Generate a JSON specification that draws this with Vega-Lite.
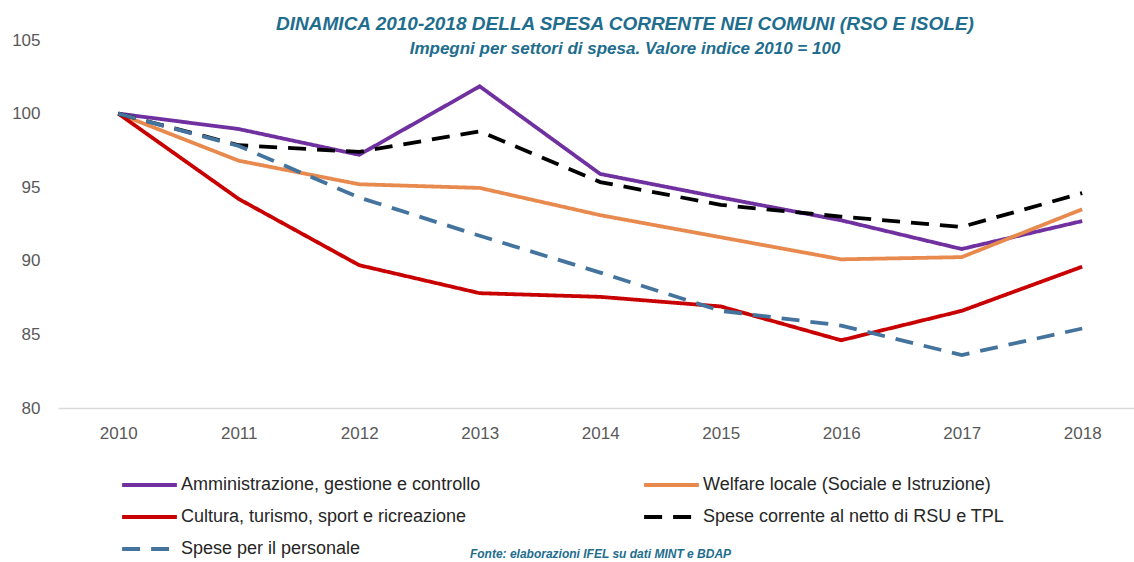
{
  "$schema": "https://vega.github.io/schema/vega-lite/v6.json",
  "width": 1076,
  "height": 368,
  "autosize": {"type": "none"},
  "padding": {"left": 58, "top": 40, "right": 0, "bottom": 154},
  "background": "white",
  "view": {"stroke": null},
  "title": {
    "text": "DINAMICA 2010-2018 DELLA SPESA CORRENTE NEI COMUNI (RSO E ISOLE)",
    "subtitle": "Impegni per settori di spesa. Valore indice 2010  = 100",
    "anchor": "middle",
    "dx": 29,
    "offset": -26,
    "font": "Liberation Sans",
    "fontSize": 19,
    "fontStyle": "italic",
    "fontWeight": "bold",
    "color": "#216D8E",
    "subtitleFont": "Liberation Sans",
    "subtitleFontSize": 17,
    "subtitleFontStyle": "italic",
    "subtitleFontWeight": "bold",
    "subtitleColor": "#216D8E",
    "subtitlePadding": 7
  },
  "data": {
    "values": [
      {"year": 2010, "serie": "Amministrazione, gestione e controllo", "value": 100},
      {"year": 2011, "serie": "Amministrazione, gestione e controllo", "value": 98.95},
      {"year": 2012, "serie": "Amministrazione, gestione e controllo", "value": 97.2},
      {"year": 2013, "serie": "Amministrazione, gestione e controllo", "value": 101.85},
      {"year": 2014, "serie": "Amministrazione, gestione e controllo", "value": 95.9},
      {"year": 2015, "serie": "Amministrazione, gestione e controllo", "value": 94.3},
      {"year": 2016, "serie": "Amministrazione, gestione e controllo", "value": 92.75},
      {"year": 2017, "serie": "Amministrazione, gestione e controllo", "value": 90.8},
      {"year": 2018, "serie": "Amministrazione, gestione e controllo", "value": 92.7},
      {"year": 2010, "serie": "Welfare locale (Sociale e Istruzione)", "value": 100},
      {"year": 2011, "serie": "Welfare locale (Sociale e Istruzione)", "value": 96.8},
      {"year": 2012, "serie": "Welfare locale (Sociale e Istruzione)", "value": 95.2},
      {"year": 2013, "serie": "Welfare locale (Sociale e Istruzione)", "value": 94.95},
      {"year": 2014, "serie": "Welfare locale (Sociale e Istruzione)", "value": 93.1},
      {"year": 2015, "serie": "Welfare locale (Sociale e Istruzione)", "value": 91.6},
      {"year": 2016, "serie": "Welfare locale (Sociale e Istruzione)", "value": 90.1},
      {"year": 2017, "serie": "Welfare locale (Sociale e Istruzione)", "value": 90.25},
      {"year": 2018, "serie": "Welfare locale (Sociale e Istruzione)", "value": 93.5},
      {"year": 2010, "serie": "Cultura, turismo, sport e ricreazione", "value": 100},
      {"year": 2011, "serie": "Cultura, turismo, sport e ricreazione", "value": 94.2},
      {"year": 2012, "serie": "Cultura, turismo, sport e ricreazione", "value": 89.7},
      {"year": 2013, "serie": "Cultura, turismo, sport e ricreazione", "value": 87.8},
      {"year": 2014, "serie": "Cultura, turismo, sport e ricreazione", "value": 87.55},
      {"year": 2015, "serie": "Cultura, turismo, sport e ricreazione", "value": 86.9},
      {"year": 2016, "serie": "Cultura, turismo, sport e ricreazione", "value": 84.6},
      {"year": 2017, "serie": "Cultura, turismo, sport e ricreazione", "value": 86.6},
      {"year": 2018, "serie": "Cultura, turismo, sport e ricreazione", "value": 89.6},
      {"year": 2010, "serie": "Spese corrente al netto di RSU e TPL", "value": 100},
      {"year": 2011, "serie": "Spese corrente al netto di RSU e TPL", "value": 97.85},
      {"year": 2012, "serie": "Spese corrente al netto di RSU e TPL", "value": 97.4},
      {"year": 2013, "serie": "Spese corrente al netto di RSU e TPL", "value": 98.8},
      {"year": 2014, "serie": "Spese corrente al netto di RSU e TPL", "value": 95.35},
      {"year": 2015, "serie": "Spese corrente al netto di RSU e TPL", "value": 93.8},
      {"year": 2016, "serie": "Spese corrente al netto di RSU e TPL", "value": 93.0},
      {"year": 2017, "serie": "Spese corrente al netto di RSU e TPL", "value": 92.3},
      {"year": 2018, "serie": "Spese corrente al netto di RSU e TPL", "value": 94.6},
      {"year": 2010, "serie": "Spese per il personale", "value": 100},
      {"year": 2011, "serie": "Spese per il personale", "value": 97.8},
      {"year": 2012, "serie": "Spese per il personale", "value": 94.3},
      {"year": 2013, "serie": "Spese per il personale", "value": 91.7},
      {"year": 2014, "serie": "Spese per il personale", "value": 89.2},
      {"year": 2015, "serie": "Spese per il personale", "value": 86.6},
      {"year": 2016, "serie": "Spese per il personale", "value": 85.6},
      {"year": 2017, "serie": "Spese per il personale", "value": 83.6},
      {"year": 2018, "serie": "Spese per il personale", "value": 85.4}
    ]
  },
  "mark": {"type": "line", "strokeWidth": 3.8, "strokeCap": "butt"},
  "encoding": {
    "x": {
      "field": "year",
      "type": "quantitative",
      "scale": {"domain": [2009.5, 2018.43], "nice": false, "zero": false},
      "axis": {
        "values": [2010, 2011, 2012, 2013, 2014, 2015, 2016, 2017, 2018],
        "format": "d",
        "grid": false,
        "ticks": false,
        "domainColor": "#D9D9D9",
        "domainWidth": 1.5,
        "labelPadding": 17,
        "labelFontSize": 17,
        "labelFont": "Liberation Sans",
        "labelColor": "#595959",
        "title": "Fonte: elaborazioni IFEL su dati MINT e BDAP",
        "titleFont": "Liberation Sans",
        "titleFontSize": 12,
        "titleFontStyle": "italic",
        "titleFontWeight": "bold",
        "titleColor": "#216D8E",
        "titleX": 542,
        "titleY": 152,
        "titleBaseline": "bottom"
      }
    },
    "y": {
      "field": "value",
      "type": "quantitative",
      "scale": {"domain": [80, 105], "nice": false, "zero": false},
      "axis": {
        "values": [80, 85, 90, 95, 100, 105],
        "grid": false,
        "ticks": false,
        "domain": false,
        "labelPadding": 18,
        "labelFontSize": 17,
        "labelFont": "Liberation Sans",
        "labelColor": "#595959",
        "title": null
      }
    },
    "color": {
      "field": "serie",
      "type": "nominal",
      "scale": {
        "domain": ["Amministrazione, gestione e controllo", "Cultura, turismo, sport e ricreazione", "Spese per il personale", "Welfare locale (Sociale e Istruzione)", "Spese corrente al netto di RSU e TPL"],
        "range": ["#7030A0", "#C80000", "#44749D", "#E8894E", "#000000"]
      },
      "legend": {
        "title": null,
        "orient": "none",
        "legendX": 62,
        "legendY": 435,
        "columns": 2,
        "columnPadding": 161,
        "rowPadding": 12,
        "clipHeight": 20,
        "symbolType": "stroke",
        "symbolSize": 3000,
        "symbolStrokeWidth": 4,
        "labelFontSize": 18,
        "labelFont": "Liberation Sans",
        "labelColor": "#262626",
        "labelLimit": 0,
        "labelOffset": 2
      }
    },
    "strokeDash": {
      "field": "serie",
      "type": "nominal",
      "scale": {
        "domain": ["Amministrazione, gestione e controllo", "Cultura, turismo, sport e ricreazione", "Spese per il personale", "Welfare locale (Sociale e Istruzione)", "Spese corrente al netto di RSU e TPL"],
        "range": [[1, 0], [1, 0], [18, 11], [1, 0], [18, 11]]
      },
      "legend": null
    }
  }
}
